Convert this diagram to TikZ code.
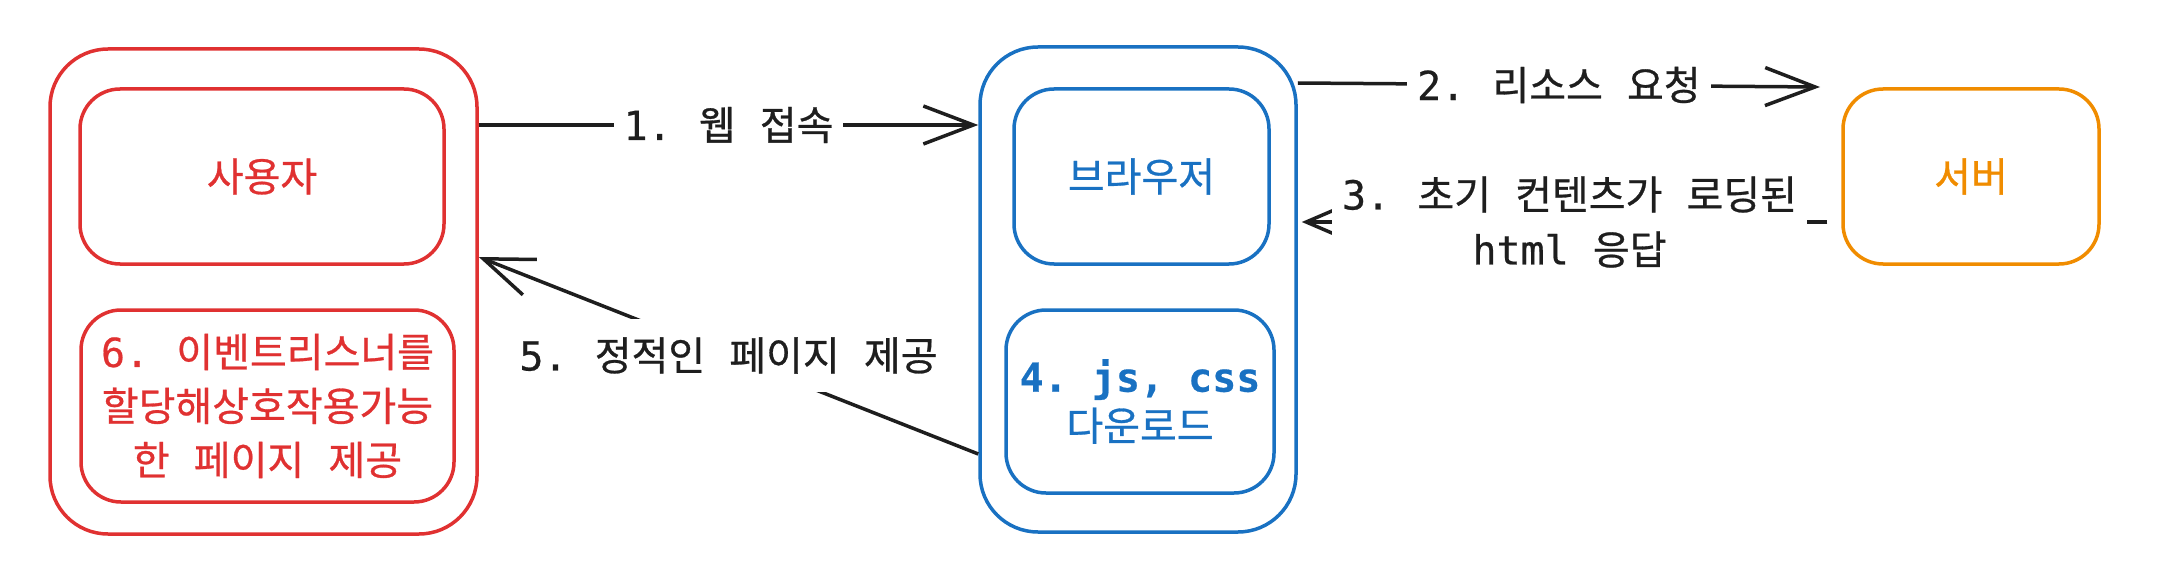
\documentclass[tikz,border=0pt]{standalone}
\usepackage{fontspec}
\setmainfont{Noto Sans CJK KR}[WordSpace=2.7, FakeBold=0.7]
\setmonofont{DejaVu Sans Mono}[FakeBold=0.5]
\usetikzlibrary{arrows.meta}
\definecolor{usrred}{HTML}{E03131}
\definecolor{brwblue}{HTML}{1971C2}
\definecolor{srvorange}{HTML}{F08C00}
\definecolor{ink}{HTML}{1E1E1E}
\newcommand{\mn}[1]{{\ttfamily #1}}
\begin{document}
\begin{tikzpicture}[x=1pt, y=-1pt,
  outerbox/.style={draw, line width=3.5pt, rounded corners=58pt, inner sep=0pt},
  innerbox/.style={draw, line width=3.5pt, rounded corners=40pt, align=center, inner sep=0pt, font=\fontsize{40}{54}\selectfont},
  flow/.style={draw=ink, line width=3.5pt, -{Straight Barb[length=50pt,width=38pt]}},
  lbl/.style={fill=white, text=ink, inner xsep=10pt, inner ysep=18pt, align=center, font=\fontsize{40}{55}\selectfont}]
\useasboundingbox (0,0) rectangle (2170,588);
\node[outerbox, usrred, minimum width=427pt, minimum height=485pt] (usr) at (263.5,291.5){};
\node[innerbox, usrred, minimum width=364pt, minimum height=175pt] (usrtop) at (262,176.5){사용자};
\node[innerbox, usrred, minimum width=373pt, minimum height=192pt] (usrbot) at (267.5,406){\mn{6.} 이벤트리스너를\\할당해상호작용가능\\한 페이지 제공};
\node[outerbox, brwblue, minimum width=316pt, minimum height=485pt] (brw) at (1138,289.5){};
\node[innerbox, brwblue, minimum width=255pt, minimum height=175pt] (brwtop) at (1141.5,176.5){브라우저};
\node[innerbox, brwblue, minimum width=268pt, minimum height=183pt, font=\fontsize{40}{49}\selectfont] (brwbot) at (1140,401.5){{\ttfamily\bfseries 4. js, css}\\다운로드};
\node[innerbox, srvorange, minimum width=256pt, minimum height=175pt] (srv) at (1971,176.5){서버};
\coordinate (req) at (1820,87);
\draw[flow] (usr.east |- 0,125) -- node[lbl]{\mn{1.} 웹 접속} (brw.west |- 0,125);
\draw[flow] (brw.north east |- 0,83) -- node[lbl]{\mn{2.} 리소스 요청} (req);
\draw[flow, -{Straight Barb[length=28pt,width=24pt]}, shorten <=14pt, shorten >=4pt] (srv.west |- 0,222) -- node[lbl]{\mn{3.} 초기 컨텐츠가 로딩된\\\mn{html} 응답} (brw.east |- 0,222);
\draw[flow] (brw.west |- 0,454) -- node[lbl]{\mn{5.} 정적인 페이지 제공} (usr.east |- 0,257);
\end{tikzpicture}
\end{document}
